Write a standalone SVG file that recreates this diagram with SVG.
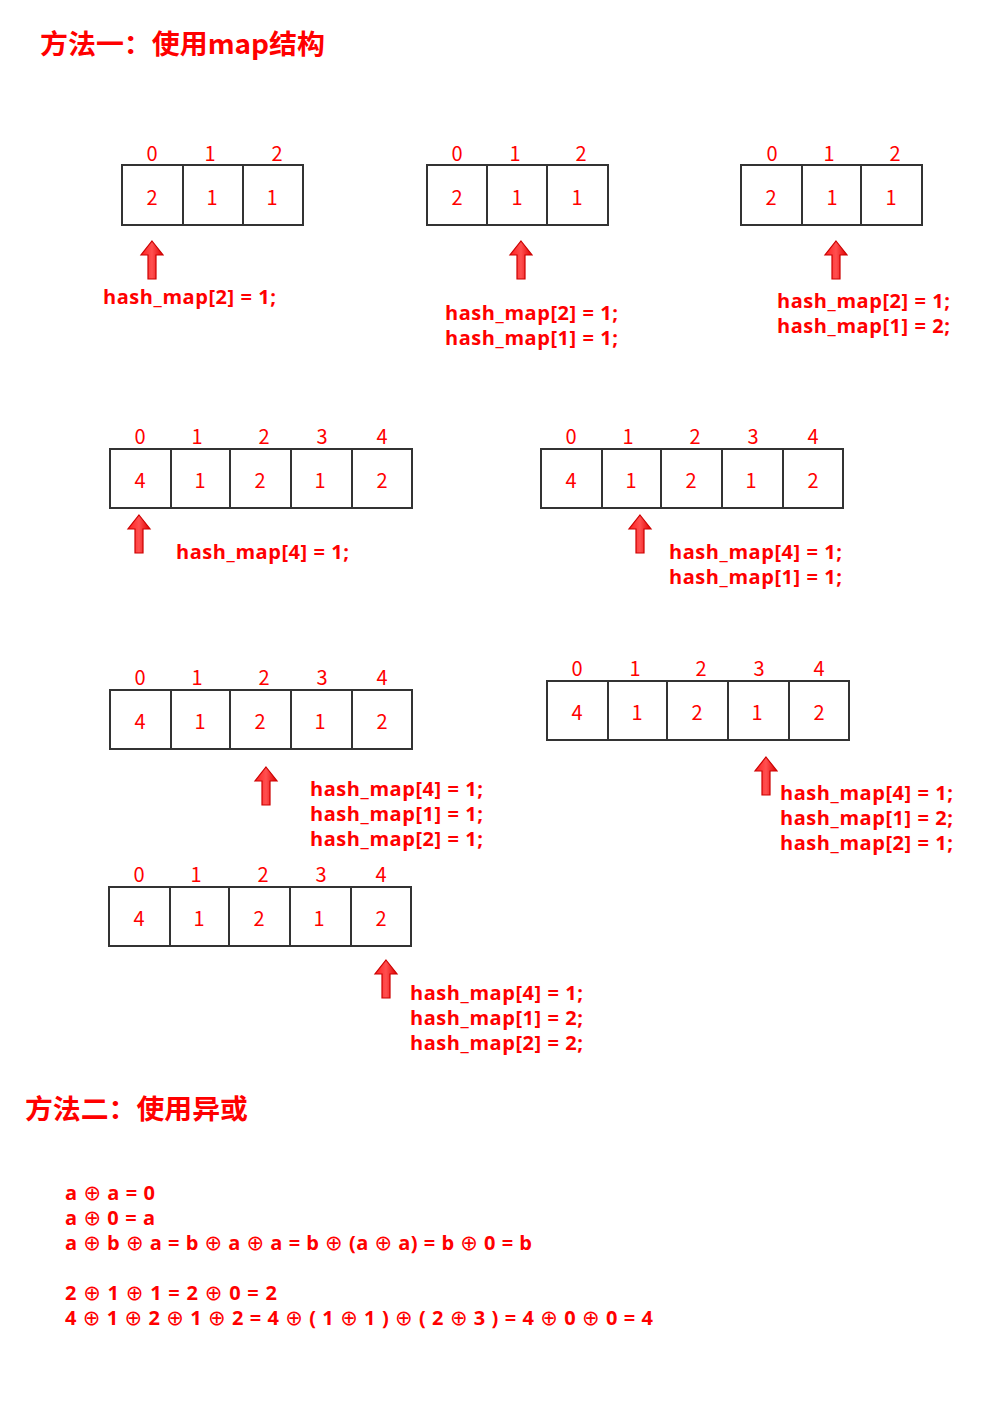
<svg xmlns="http://www.w3.org/2000/svg" xmlns:xlink="http://www.w3.org/1999/xlink" width="993" height="1413" viewBox="0 0 993 1413">
<style>
.bg{fill:#ffffff}
.box{fill:#ffffff;stroke:#333333;stroke-width:2}
.sep{stroke:#333333;stroke-width:2}
.num{font-family:"Noto Sans CJK SC","Noto Sans",sans-serif;font-size:20px;fill:#ff0000;text-anchor:middle;dominant-baseline:central}
.lbl{font-family:"Open Sans","Noto Sans",sans-serif;font-size:20px;font-weight:bold;fill:#ff0000}
.title{font-family:"Noto Sans CJK SC",sans-serif;font-size:27px;font-weight:bold;fill:#ff0000}
.eq{font-family:"Open Sans","Noto Sans",sans-serif;font-size:20px;font-weight:bold;fill:#ff0000}
.x{font-weight:normal;font-family:"DejaVu Sans",sans-serif;font-size:21px}
.arr{fill:url(#ag);stroke:#cc0000;stroke-width:1.2}
</style>
<defs>
<linearGradient id="ag" x1="0" y1="0" x2="1" y2="0">
<stop offset="0" stop-color="#ff2020"/>
<stop offset="0.5" stop-color="#ff5050"/>
<stop offset="1" stop-color="#e00000"/>
</linearGradient>
<path id="arrow" class="arr" d="M0,0 L11,14 L4,14 L4,38 L-4,38 L-4,14 L-11,14 Z"/>
</defs>
<rect class="bg" x="0" y="0" width="993" height="1413"/>

<text id="title1" class="title" x="40" y="54" textLength="285" lengthAdjust="spacingAndGlyphs">方法一：使用map结构</text>

<g id="array1">
<rect class="box" x="122" y="165" width="181" height="60"/>
<line class="sep" x1="183" y1="165" x2="183" y2="225"/>
<line class="sep" x1="243" y1="165" x2="243" y2="225"/>
<text class="num" x="152" y="152">0</text><text class="num" x="210" y="152">1</text><text class="num" x="277" y="152">2</text>
<text class="num" x="152" y="196">2</text><text class="num" x="212" y="196">1</text><text class="num" x="272" y="196">1</text>
</g>
<g id="step1">
<use xlink:href="#arrow" x="152" y="241"/>
<text class="lbl" x="103" y="304" textLength="173" lengthAdjust="spacing">hash_map[2] = 1;</text>
</g>

<g id="array2">
<rect class="box" x="427" y="165" width="181" height="60"/>
<line class="sep" x1="487" y1="165" x2="487" y2="225"/>
<line class="sep" x1="547" y1="165" x2="547" y2="225"/>
<text class="num" x="457" y="152">0</text><text class="num" x="515" y="152">1</text><text class="num" x="581" y="152">2</text>
<text class="num" x="457" y="196">2</text><text class="num" x="517" y="196">1</text><text class="num" x="577" y="196">1</text>
</g>
<g id="step2">
<use xlink:href="#arrow" x="521" y="241"/>
<text class="lbl" x="445" y="320" textLength="173" lengthAdjust="spacing">hash_map[2] = 1;</text>
<text class="lbl" x="445" y="345" textLength="173" lengthAdjust="spacing">hash_map[1] = 1;</text>
</g>

<g id="array3">
<rect class="box" x="741" y="165" width="181" height="60"/>
<line class="sep" x1="802" y1="165" x2="802" y2="225"/>
<line class="sep" x1="861" y1="165" x2="861" y2="225"/>
<text class="num" x="772" y="152">0</text><text class="num" x="829" y="152">1</text><text class="num" x="895" y="152">2</text>
<text class="num" x="771" y="196">2</text><text class="num" x="832" y="196">1</text><text class="num" x="891" y="196">1</text>
</g>
<g id="step3">
<use xlink:href="#arrow" x="836" y="241"/>
<text class="lbl" x="777" y="308" textLength="173" lengthAdjust="spacing">hash_map[2] = 1;</text>
<text class="lbl" x="777" y="333" textLength="173" lengthAdjust="spacing">hash_map[1] = 2;</text>
</g>

<g id="array4">
<rect class="box" x="110" y="449" width="302" height="59"/>
<line class="sep" x1="171" y1="449" x2="171" y2="508"/>
<line class="sep" x1="230" y1="449" x2="230" y2="508"/>
<line class="sep" x1="291" y1="449" x2="291" y2="508"/>
<line class="sep" x1="352" y1="449" x2="352" y2="508"/>
<text class="num" x="140" y="435">0</text><text class="num" x="197" y="435">1</text><text class="num" x="264" y="435">2</text><text class="num" x="322" y="435">3</text><text class="num" x="382" y="435">4</text>
<text class="num" x="140" y="479">4</text><text class="num" x="200" y="479">1</text><text class="num" x="260" y="479">2</text><text class="num" x="320" y="479">1</text><text class="num" x="382" y="479">2</text>
</g>
<g id="step4">
<use xlink:href="#arrow" x="139" y="515"/>
<text class="lbl" x="176" y="559" textLength="173" lengthAdjust="spacing">hash_map[4] = 1;</text>
</g>

<g id="array5">
<rect class="box" x="541" y="449" width="302" height="59"/>
<line class="sep" x1="602" y1="449" x2="602" y2="508"/>
<line class="sep" x1="661" y1="449" x2="661" y2="508"/>
<line class="sep" x1="722" y1="449" x2="722" y2="508"/>
<line class="sep" x1="783" y1="449" x2="783" y2="508"/>
<text class="num" x="571" y="435">0</text><text class="num" x="628" y="435">1</text><text class="num" x="695" y="435">2</text><text class="num" x="753" y="435">3</text><text class="num" x="813" y="435">4</text>
<text class="num" x="571" y="479">4</text><text class="num" x="631" y="479">1</text><text class="num" x="691" y="479">2</text><text class="num" x="751" y="479">1</text><text class="num" x="813" y="479">2</text>
</g>
<g id="step5">
<use xlink:href="#arrow" x="640" y="515"/>
<text class="lbl" x="669" y="559" textLength="173" lengthAdjust="spacing">hash_map[4] = 1;</text>
<text class="lbl" x="669" y="584" textLength="173" lengthAdjust="spacing">hash_map[1] = 1;</text>
</g>

<g id="array6">
<rect class="box" x="110" y="690" width="302" height="59"/>
<line class="sep" x1="171" y1="690" x2="171" y2="749"/>
<line class="sep" x1="230" y1="690" x2="230" y2="749"/>
<line class="sep" x1="291" y1="690" x2="291" y2="749"/>
<line class="sep" x1="352" y1="690" x2="352" y2="749"/>
<text class="num" x="140" y="676">0</text><text class="num" x="197" y="676">1</text><text class="num" x="264" y="676">2</text><text class="num" x="322" y="676">3</text><text class="num" x="382" y="676">4</text>
<text class="num" x="140" y="720">4</text><text class="num" x="200" y="720">1</text><text class="num" x="260" y="720">2</text><text class="num" x="320" y="720">1</text><text class="num" x="382" y="720">2</text>
</g>
<g id="step6">
<use xlink:href="#arrow" x="266" y="767"/>
<text class="lbl" x="310" y="796" textLength="173" lengthAdjust="spacing">hash_map[4] = 1;</text>
<text class="lbl" x="310" y="821" textLength="173" lengthAdjust="spacing">hash_map[1] = 1;</text>
<text class="lbl" x="310" y="846" textLength="173" lengthAdjust="spacing">hash_map[2] = 1;</text>
</g>

<g id="array7">
<rect class="box" x="547" y="681" width="302" height="59"/>
<line class="sep" x1="608" y1="681" x2="608" y2="740"/>
<line class="sep" x1="667" y1="681" x2="667" y2="740"/>
<line class="sep" x1="728" y1="681" x2="728" y2="740"/>
<line class="sep" x1="789" y1="681" x2="789" y2="740"/>
<text class="num" x="577" y="667">0</text><text class="num" x="635" y="667">1</text><text class="num" x="701" y="667">2</text><text class="num" x="759" y="667">3</text><text class="num" x="819" y="667">4</text>
<text class="num" x="577" y="711">4</text><text class="num" x="637" y="711">1</text><text class="num" x="697" y="711">2</text><text class="num" x="757" y="711">1</text><text class="num" x="819" y="711">2</text>
</g>
<g id="step7">
<use xlink:href="#arrow" x="766" y="757"/>
<text class="lbl" x="780" y="800" textLength="173" lengthAdjust="spacing">hash_map[4] = 1;</text>
<text class="lbl" x="780" y="825" textLength="173" lengthAdjust="spacing">hash_map[1] = 2;</text>
<text class="lbl" x="780" y="850" textLength="173" lengthAdjust="spacing">hash_map[2] = 1;</text>
</g>

<g id="array8">
<rect class="box" x="109" y="887" width="302" height="59"/>
<line class="sep" x1="170" y1="887" x2="170" y2="946"/>
<line class="sep" x1="229" y1="887" x2="229" y2="946"/>
<line class="sep" x1="290" y1="887" x2="290" y2="946"/>
<line class="sep" x1="351" y1="887" x2="351" y2="946"/>
<text class="num" x="139" y="873">0</text><text class="num" x="196" y="873">1</text><text class="num" x="263" y="873">2</text><text class="num" x="321" y="873">3</text><text class="num" x="381" y="873">4</text>
<text class="num" x="139" y="917">4</text><text class="num" x="199" y="917">1</text><text class="num" x="259" y="917">2</text><text class="num" x="319" y="917">1</text><text class="num" x="381" y="917">2</text>
</g>
<g id="step8">
<use xlink:href="#arrow" x="386" y="960"/>
<text class="lbl" x="410" y="1000" textLength="173" lengthAdjust="spacing">hash_map[4] = 1;</text>
<text class="lbl" x="410" y="1025" textLength="173" lengthAdjust="spacing">hash_map[1] = 2;</text>
<text class="lbl" x="410" y="1050" textLength="173" lengthAdjust="spacing">hash_map[2] = 2;</text>
</g>

<text id="title2" class="title" x="25" y="1119" textLength="223" lengthAdjust="spacingAndGlyphs">方法二：使用异或</text>

<g id="xor">
<text class="eq" x="65" y="1200" textLength="90" lengthAdjust="spacing">a <tspan class="x">⊕</tspan> a = 0</text>
<text class="eq" x="65" y="1225" textLength="90" lengthAdjust="spacing">a <tspan class="x">⊕</tspan> 0 = a</text>
<text class="eq" x="65" y="1250" textLength="467" lengthAdjust="spacing">a <tspan class="x">⊕</tspan> b <tspan class="x">⊕</tspan> a = b <tspan class="x">⊕</tspan> a <tspan class="x">⊕</tspan> a = b <tspan class="x">⊕</tspan> (a <tspan class="x">⊕</tspan> a) = b <tspan class="x">⊕</tspan> 0 = b</text>
<text class="eq" x="65" y="1300" textLength="212" lengthAdjust="spacing">2 <tspan class="x">⊕</tspan> 1 <tspan class="x">⊕</tspan> 1 = 2 <tspan class="x">⊕</tspan> 0 = 2</text>
<text class="eq" x="65" y="1325" textLength="588" lengthAdjust="spacing">4 <tspan class="x">⊕</tspan> 1 <tspan class="x">⊕</tspan> 2 <tspan class="x">⊕</tspan> 1 <tspan class="x">⊕</tspan> 2 = 4 <tspan class="x">⊕</tspan> ( 1 <tspan class="x">⊕</tspan> 1 ) <tspan class="x">⊕</tspan> ( 2 <tspan class="x">⊕</tspan> 3 ) = 4 <tspan class="x">⊕</tspan> 0 <tspan class="x">⊕</tspan> 0 = 4</text>
</g>
</svg>
